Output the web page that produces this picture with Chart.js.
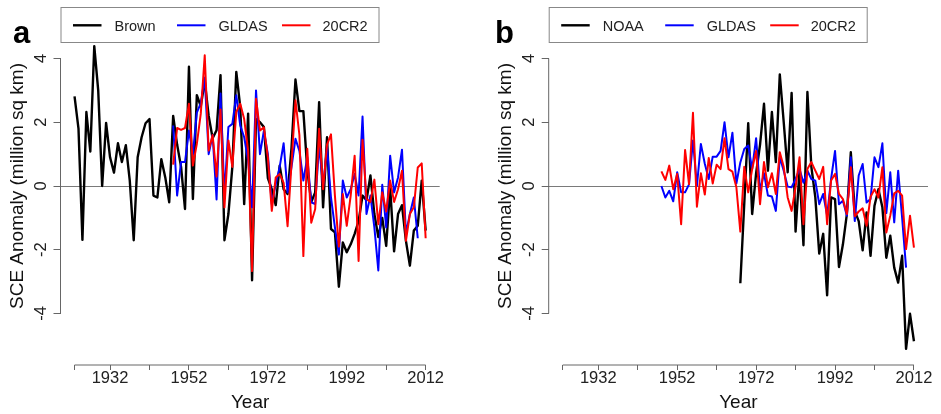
<!DOCTYPE html>
<html>
<head>
<meta charset="utf-8">
<script src="https://cdn.jsdelivr.net/npm/chart.js@4.4.1/dist/chart.umd.min.js"></script>
<style>
html, body { margin: 0; padding: 0; background: #fff; }
#wrap { position: relative; width: 941px; height: 414px; }
#chartA { position: absolute; left: 0; top: 0; }
#chartB { position: absolute; left: 470px; top: 0; }
</style>
</head>
<body>
<div id="wrap">
  <canvas id="chartA" width="470" height="414"></canvas>
  <canvas id="chartB" width="471" height="414"></canvas>
</div>
<script>
// years of each record
const brownYears = [1923,1924,1925,1926,1927,1928,1929,1930,1931,1932,
  1933,1934,1935,1936,1937,1938,1939,1940,1941,1942,
  1943,1944,1945,1946,1947,1948,1949,1950,1951,1952,
  1953,1954,1955,1956,1957,1958,1959,1960,1961,1962,
  1963,1964,1965,1966,1967,1968,1969,1970,1971,1972,
  1973,1974,1975,1976,1977,1978,1979,1980,1981,1982,
  1983,1984,1985,1986,1987,1988,1989,1990,1991,1992,
  1993,1994,1995,1996,1997,1998,1999,2000,2001,2002,
  2003,2004,2005,2006,2007,2008,2009,2010,2011,2012];
const reanYears = [1948,1949,1950,1951,1952,1953,1954,1955,1956,1957,
  1958,1959,1960,1961,1962,1963,1964,1965,1966,1967,
  1968,1969,1970,1971,1972,1973,1974,1975,1976,1977,
  1978,1979,1980,1981,1982,1983,1984,1985,1986,1987,
  1988,1989,1990,1991,1992,1993,1994,1995,1996,1997,
  1998,1999,2000,2001,2002,2003,2004,2005,2006,2007,
  2008,2009,2010,2011,2012];
const noaaYears = [1968,1969,1970,1971,1972,1973,1974,1975,1976,1977,
  1978,1979,1980,1981,1982,1983,1984,1985,1986,1987,
  1988,1989,1990,1991,1992,1993,1994,1995,1996,1997,
  1998,1999,2000,2001,2002,2003,2004,2005,2006,2007,
  2008,2009,2010,2011,2012];

// panel a: SCE anomaly (million sq km)
const brown = [2.81,1.80,-1.69,2.32,1.08,4.39,3.00,0.00,1.98,0.90,
  0.42,1.34,0.75,1.28,0.17,-1.70,0.90,1.53,1.97,2.10,
  -0.30,-0.36,0.84,0.27,-0.51,2.20,1.30,0.60,-0.72,3.74,
  -0.41,2.85,2.50,3.30,2.20,1.50,1.75,3.48,-1.70,-0.88,
  0.60,3.58,2.48,-0.57,2.27,-2.96,2.10,2.00,1.85,0.25,
  -0.10,-0.60,0.64,-0.10,-0.25,1.20,3.34,2.35,2.35,0.50,
  -0.50,-0.20,2.63,-0.67,1.53,-1.35,-1.45,-3.16,-1.77,-2.08,
  -1.83,-1.50,-1.10,-0.30,-0.45,0.33,-0.88,-1.60,-1.00,-1.88,
  -0.05,-2.05,-0.88,-0.60,-1.72,-2.50,-1.40,-1.25,0.17,-1.40];
const gldasA = [1.90,-0.30,0.75,0.75,1.74,1.00,2.30,2.60,3.40,1.00,
  1.60,-0.42,2.90,-0.30,1.85,1.95,2.85,1.90,1.53,0.80,
  -0.67,3.00,1.00,1.74,1.00,-0.57,0.06,0.60,1.34,-0.20,
  0.60,1.48,1.10,0.17,0.90,-0.51,-0.57,1.30,-0.04,1.22,
  -0.36,-1.30,-2.15,0.17,-0.36,-0.10,0.38,-0.30,2.18,-0.88,
  -0.30,-1.30,-2.65,0.04,-1.30,0.95,-0.20,0.27,1.14,-1.50,
  -0.88,-0.36,-1.64];
const cr2A = [0.67,1.82,1.76,1.82,2.58,0.64,1.32,2.27,4.10,1.11,
  1.60,0.30,2.40,-0.67,1.43,0.60,2.32,2.58,2.10,1.11,
  -2.67,2.74,1.74,1.84,0.90,-0.78,0.27,0.38,0.10,-1.26,
  0.70,2.69,1.60,-2.20,1.17,-1.15,-0.72,1.80,-0.10,1.30,
  1.62,-0.30,-1.90,-0.25,-1.25,-0.30,0.95,-2.35,1.45,-0.40,
  -0.50,0.20,-1.20,-0.20,-0.80,0.17,-0.50,-0.10,0.48,-1.72,
  -0.88,-0.67,0.58,0.71,-1.64];

// panel b
const noaa = [-3.05,-0.55,1.97,-0.88,0.40,1.30,2.58,0.48,2.32,0.75,
  3.50,2.00,0.43,2.92,-1.43,0.50,-1.86,2.95,0.60,-0.35,
  -2.12,-1.50,-3.43,-0.36,-0.41,-2.54,-1.83,-0.88,1.06,-0.78,
  -1.10,-2.02,-0.83,-2.19,-0.62,-0.10,-0.67,-2.25,-1.56,-2.56,
  -3.03,-2.19,-5.11,-4.01,-4.87];
const gldasB = [0.00,-0.36,-0.15,-0.48,0.43,-0.20,-0.20,0.05,1.43,0.00,
  1.32,0.70,0.22,0.92,0.92,1.10,2.00,0.90,1.67,0.08,
  0.74,1.16,1.27,0.53,1.50,-0.15,0.40,-0.30,-0.33,-0.78,
  0.90,0.48,-0.02,-0.04,0.22,0.53,0.10,0.48,0.22,0.17,
  -0.57,-0.25,-0.93,0.22,1.10,-0.57,-0.46,-0.93,0.90,-1.10,
  0.33,0.69,-0.52,-0.41,0.90,0.59,1.34,-0.85,0.43,-1.14,
  0.48,-0.99,-2.56];
const cr2B = [0.46,0.19,0.64,-0.10,0.38,-1.20,1.13,0.06,2.30,-0.65,
  0.40,-0.27,0.88,0.08,0.67,0.53,1.50,0.53,0.45,-0.04,
  -1.43,0.60,-0.20,0.53,1.10,-0.57,0.75,-0.04,0.40,-0.25,
  1.06,0.60,-0.36,-0.78,-0.04,0.90,-1.20,0.53,0.75,0.48,
  0.22,0.60,-1.20,0.17,0.38,-0.25,-0.41,-0.88,0.59,-0.95,
  -0.80,-0.70,-1.25,-0.34,-0.10,-0.36,0.59,-1.46,-0.93,-0.23,
  -0.15,-0.30,-1.98,-0.93,-1.93];

// axes
const xTickValues = [1923,1932,1942,1952,1962,1972,1982,1992,2002,2012];
const xTickLabels = [1932,1952,1972,1992,2012];
const yTickValues = [-4,-2,0,2,4];
const xMin = 1919.44, xMax = 2015.56;
const yLim = 5.616;

const FONT = '"Liberation Sans", Arial, Helvetica, sans-serif';

function panelPlugin(p){
  return {
    id: 'panel' + p.letter,
    afterDraw(chart){
      const ctx = chart.ctx;
      const ca = chart.chartArea;
      const xs = chart.scales.x, ys = chart.scales.y;
      ctx.save();
      // axis lines from first to last tick
      ctx.strokeStyle = '#666';
      ctx.lineWidth = 1;
      ctx.beginPath();
      ctx.moveTo(ca.left, ys.getPixelForValue(yTickValues[0]));
      ctx.lineTo(ca.left, ys.getPixelForValue(yTickValues[yTickValues.length-1]));
      ctx.moveTo(xs.getPixelForValue(xTickValues[0]), ca.bottom);
      ctx.lineTo(xs.getPixelForValue(xTickValues[xTickValues.length-1]), ca.bottom);
      ctx.stroke();

      // y tick labels, parallel to the axis
      ctx.fillStyle = '#222';
      ctx.font = '16.5px ' + FONT;
      ctx.textAlign = 'center';
      ctx.textBaseline = 'middle';
      yTickValues.forEach(v => {
        ctx.save();
        ctx.translate(ca.left - 19.3, ys.getPixelForValue(v));
        ctx.rotate(-Math.PI/2);
        ctx.fillText(String(v), 0, 0);
        ctx.restore();
      });

      // legend box, top left of the plot region
      const bx = ca.left, by = 7;
      ctx.fillStyle = '#fff';
      ctx.fillRect(bx, by, 318.5, 36);
      ctx.strokeStyle = '#888';
      ctx.strokeRect(bx + 0.5, by + 0.5, 318, 35);
      const lineOff = [12.5, 116.5, 221.5];
      const textOff = [54, 158, 262];
      ctx.font = '14.5px ' + FONT;
      ctx.textAlign = 'left';
      ctx.textBaseline = 'alphabetic';
      p.series.forEach((s, i) => {
        ctx.strokeStyle = s.color;
        ctx.lineWidth = s.width;
        ctx.beginPath();
        ctx.moveTo(bx + lineOff[i], 25.3);
        ctx.lineTo(bx + lineOff[i] + 28.5, 25.3);
        ctx.stroke();
        ctx.fillStyle = '#222';
        ctx.fillText(s.name, bx + textOff[i], 31);
      });

      // panel letter
      ctx.fillStyle = '#000';
      ctx.font = 'bold 31px ' + FONT;
      ctx.fillText(p.letter, p.letterX, 42.5);
      ctx.restore();
    }
  };
}

function makePanel(id, p){
  const datasets = p.series.map((s, i) => ({
    label: s.name,
    data: s.values.map((v, k) => ({ x: s.years[k], y: v })),
    borderColor: s.color,
    backgroundColor: s.color,
    borderWidth: s.width,
    pointRadius: 0,
    tension: 0,
    borderJoinStyle: 'round',
    order: p.series.length - 1 - i
  }));
  return new Chart(document.getElementById(id), {
    type: 'line',
    data: { datasets },
    options: {
      responsive: false,
      animation: false,
      events: [],
      layout: { padding: { top: 7, right: p.padRight, left: 0, bottom: 0 } },
      plugins: { legend: { display: false }, tooltip: { enabled: false } },
      scales: {
        x: {
          type: 'linear', min: xMin, max: xMax,
          afterFit: s => { s.height = 49; },
          afterBuildTicks: s => { s.ticks = xTickValues.map(v => ({ value: v })); },
          grid: { drawOnChartArea: false, drawTicks: true, tickLength: 5, tickColor: '#666', tickWidth: 1 },
          border: { display: false },
          ticks: {
            autoSkip: false, maxRotation: 0, minRotation: 0, padding: -1,
            color: '#222', font: { family: FONT, size: 16.5 },
            callback: v => xTickLabels.includes(v) ? String(v) : ''
          },
          title: { display: true, text: 'Year', color: '#111', font: { family: FONT, size: 19 }, padding: { top: 0, bottom: 0 } }
        },
        y: {
          min: -yLim, max: yLim,
          afterFit: s => { s.width = p.yAxisWidth; },
          afterBuildTicks: s => { s.ticks = yTickValues.map(v => ({ value: v })); },
          grid: {
            drawOnChartArea: true, drawTicks: true, tickLength: 7, tickColor: '#666', lineWidth: 1,
            color: c => (c.tick && c.tick.value === 0) ? '#7a7a7a' : 'rgba(0,0,0,0)'
          },
          border: { display: false },
          ticks: { display: false },
          title: {
            display: true, text: 'SCE Anomaly (million sq km)', color: '#111',
            font: { family: FONT, size: 19 }, padding: { top: p.yTitlePad, bottom: 0 }
          }
        }
      }
    },
    plugins: [panelPlugin(p)]
  });
}

makePanel('chartA', {
  letter: 'a', letterX: 13, yAxisWidth: 60.5, padRight: 30.3, yTitlePad: 6,
  series: [
    { name: 'Brown', years: brownYears, values: brown, color: '#000000', width: 2.4 },
    { name: 'GLDAS', years: reanYears, values: gldasA, color: '#0000ff', width: 2 },
    { name: '20CR2', years: reanYears, values: cr2A, color: '#ff0000', width: 2 }
  ]
});

makePanel('chartB', {
  letter: 'b', letterX: 25, yAxisWidth: 78.7, padRight: 13, yTitlePad: 24.6,
  series: [
    { name: 'NOAA', years: noaaYears, values: noaa, color: '#000000', width: 2.4 },
    { name: 'GLDAS', years: reanYears, values: gldasB, color: '#0000ff', width: 2 },
    { name: '20CR2', years: reanYears, values: cr2B, color: '#ff0000', width: 2 }
  ]
});
</script>
</body>
</html>
